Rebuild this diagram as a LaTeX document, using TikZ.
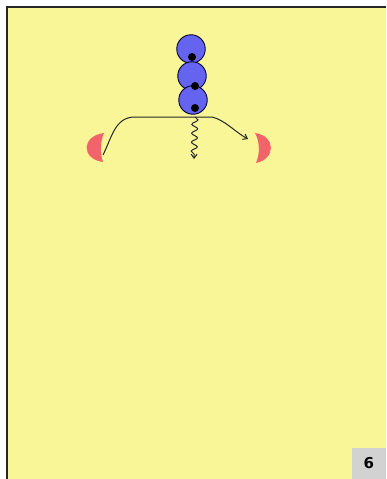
\documentclass[tikz,border=0pt]{standalone}
\usepackage{fontspec}
\setsansfont{DejaVu Sans}
\usetikzlibrary{decorations.pathmorphing,arrows.meta}
\definecolor{bgyellow}{RGB}{248,246,150}
\definecolor{pblue}{RGB}{100,100,240}
\definecolor{pred}{RGB}{242,100,105}
\definecolor{boxgray}{RGB}{210,210,210}
\tikzset{
  player/.style={circle,draw=black!80!blue,line width=0.9pt,fill=pblue,minimum size=28.5pt,inner sep=0pt},
  ball/.style={circle,fill=black,minimum size=8pt,inner sep=0pt},
  cone/.style={fill=pred},
  pass/.style={black!85,line width=1pt},
}
\begin{document}
\begin{tikzpicture}[x=1pt,y=-1pt]
\useasboundingbox (0,0) rectangle (386,479);
\fill[bgyellow] (7,7) rectangle (386,479);
\draw[black!85,line width=2pt] (7,479) -- (7,7) -- (386,7);
% number box
\node[fill=boxgray,minimum width=34pt,minimum height=31pt,inner sep=0pt,anchor=south east,font=\sffamily\bfseries\fontsize{15}{15}\selectfont] (num) at (386,479) {6};
% players
\node[player] (c1) at (191,49) {};
\node[player] (c2) at (192,76) {};
\node[player] (c3) at (193,100) {};
\node[ball] (b1) at (192,57) {};
\node[ball] (b2) at (195,86) {};
\node[ball] (b3) at (195,108) {};
% cones
\fill[cone] (104,133) .. controls (81,136) and (81,159) .. (103,162) .. controls (100,153) and (100,142) .. cycle;
\fill[cone] (255,133) .. controls (276,136) and (276,159) .. (256,163) .. controls (260,154) and (260,142) .. cycle;
\coordinate (L) at (103,155);
\coordinate (R) at (248,139);
\coordinate (W) at (194,159);
\coordinate (top) at (195,117);
% passes
\draw[pass,-{Straight Barb[length=4pt,width=6pt]}] (L) .. controls (112,137) and (115,117) .. (135,117) -- (212,117) .. controls (225,120) and (235,132) .. (R);
\draw[pass,-{Straight Barb[length=4pt,width=6pt]},decorate,decoration={snake,amplitude=3pt,segment length=9pt,post length=4pt}] (top) -- (W);
\end{tikzpicture}
\end{document}
